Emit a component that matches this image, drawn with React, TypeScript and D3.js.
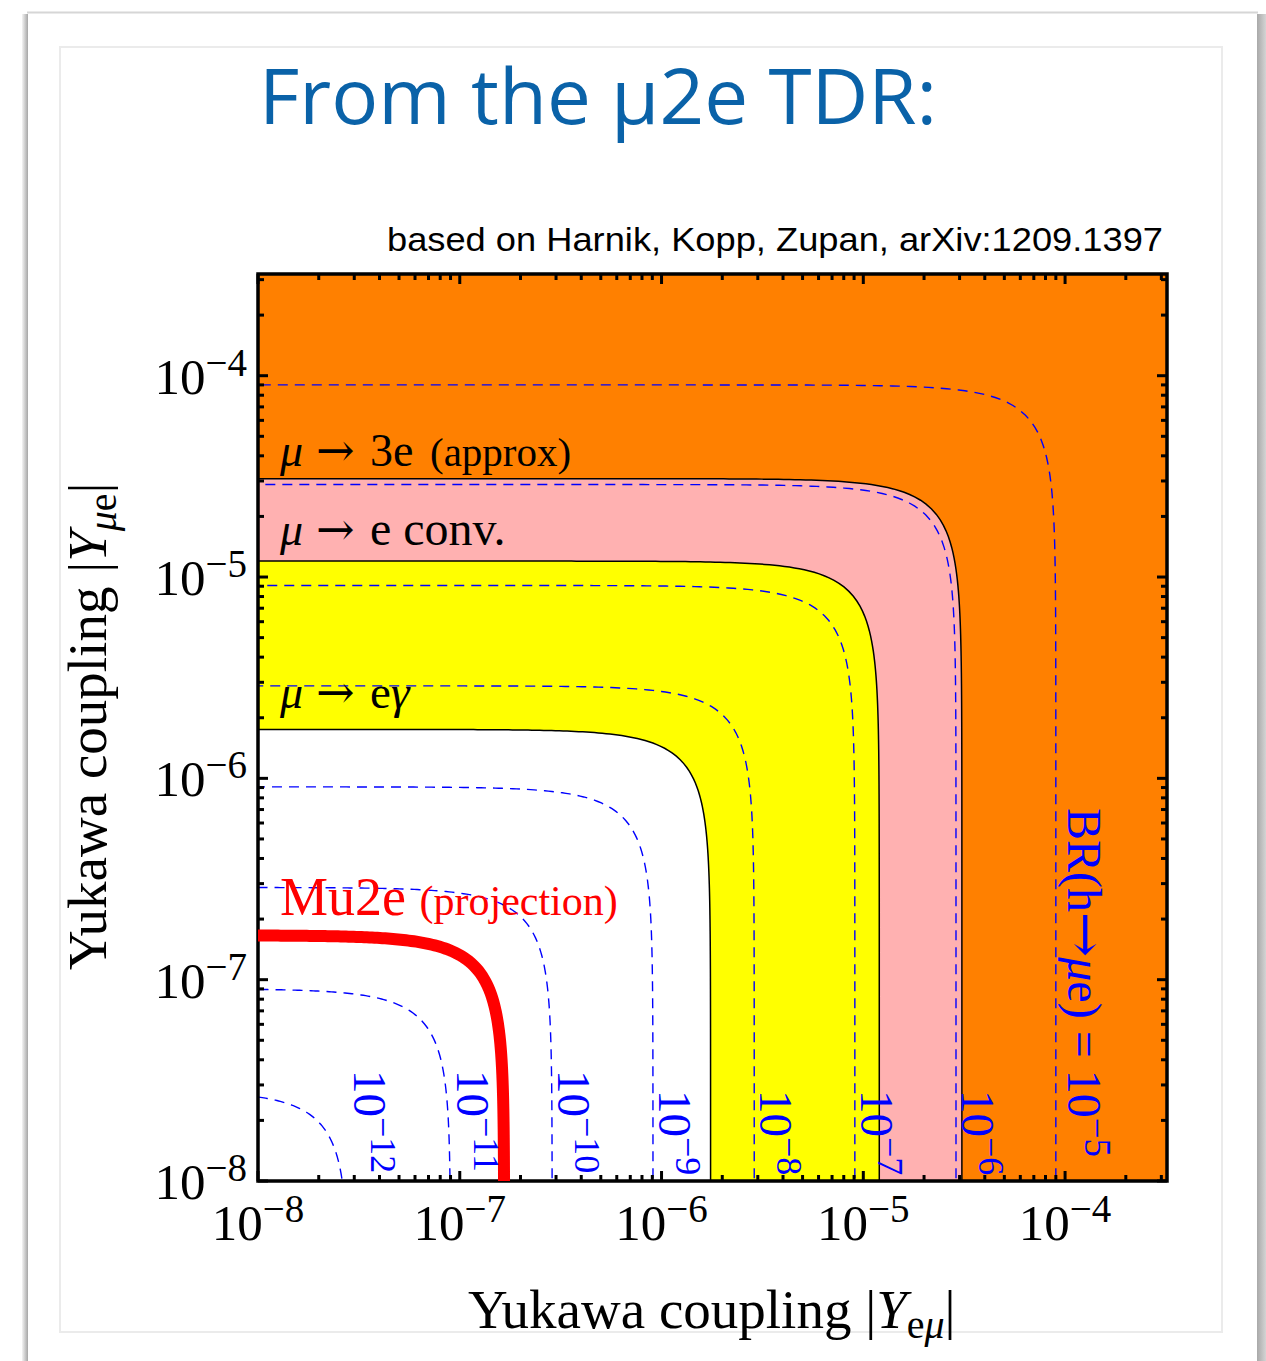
import React from "react";
import * as d3 from "d3";

const W = 1266;
const H = 1361;

// Axis ranges for the two Yukawa couplings (log scale)
const xDomain: [number, number] = [1e-8, 3.2e-4];
const yDomain: [number, number] = [1e-8, 3.2e-4];
const decadeExponents = [-8, -7, -6, -5, -4];
const decadeLabels = ["−8", "−7", "−6", "−5", "−4"];
const minorMultipliers = [2, 3, 4, 5, 6, 7, 8, 9];

// BR(h→μe) contours: radius in (|Yeμ|, |Yμe|) space for each level
const brExponents = ["−12", "−11", "−10", "−9", "−8", "−7", "−6", "−5"];
const brRadii = [2.8e-8, 9.0e-8, 2.87e-7, 9.07e-7, 2.88e-6, 9.08e-6, 2.88e-5, 9.0e-5];

// Exclusion boundaries (outermost first) and the fill inside each
const boundaryRadii = [3.08e-5, 1.2e-5, 1.75e-6];
const boundaryFills = ["#ffb1b1", "#ffff00", "#ffffff"];
const excludedFill = "#ff8000";

// Mu2e projected reach
const mu2eRadius = 1.66e-7;

const plot = { left: 258, right: 1167, top: 274, bottom: 1181 };
const serif = "'Liberation Serif', 'DejaVu Serif', serif";
const arrowFont = "'DejaVu Serif', 'DejaVu Sans', serif";

const xs = d3.scaleLog().domain(xDomain).range([plot.left, plot.right]);
const ys = d3.scaleLog().domain(yDomain).range([plot.bottom, plot.top]);

// Quarter circle |Yeμ|² + |Yμe|² = r², sampled evenly in log space
function quarterArc(r: number, lo = 1e-9, n = 160): [number, number][] {
  const pts: [number, number][] = [];
  const mid = r / Math.SQRT2;
  for (let i = 0; i <= n; i++) {
    const y = lo * Math.pow(mid / lo, i / n);
    pts.push([Math.sqrt(r * r - y * y), y]);
  }
  for (let i = n; i >= 0; i--) {
    const x = lo * Math.pow(mid / lo, i / n);
    pts.push([x, Math.sqrt(r * r - x * x)]);
  }
  return pts;
}

const line = d3
  .line<[number, number]>()
  .x((d) => xs(d[0]))
  .y((d) => ys(d[1]));

function diskPath(r: number): string {
  const pts = quarterArc(r);
  pts.push([1e-9, 1e-9]);
  return (line(pts) as string) + "Z";
}

function tickValues(domain: [number, number]) {
  const major = decadeExponents.map((e) => Math.pow(10, e));
  const minor: number[] = [];
  decadeExponents.forEach((e) =>
    minorMultipliers.forEach((m) => {
      const v = m * Math.pow(10, e);
      if (v <= domain[1]) minor.push(v);
    })
  );
  return { major, minor };
}

export default function App() {
  const xt = tickValues(xDomain);
  const yt = tickValues(yDomain);
  const majorLen = 10;
  const minorLen = 6;

  const tickLines: JSX.Element[] = [];
  const addX = (v: number, len: number, key: string) => {
    const x = xs(v);
    tickLines.push(<line key={"b" + key} x1={x} x2={x} y1={plot.bottom} y2={plot.bottom - len} />);
    tickLines.push(<line key={"t" + key} x1={x} x2={x} y1={plot.top} y2={plot.top + len} />);
  };
  const addY = (v: number, len: number, key: string) => {
    const y = ys(v);
    tickLines.push(<line key={"l" + key} x1={plot.left} x2={plot.left + len} y1={y} y2={y} />);
    tickLines.push(<line key={"r" + key} x1={plot.right} x2={plot.right - len} y1={y} y2={y} />);
  };
  xt.major.forEach((v, i) => addX(v, majorLen, "M" + i));
  xt.minor.forEach((v, i) => addX(v, minorLen, "m" + i));
  yt.major.forEach((v, i) => addY(v, majorLen, "M" + i));
  yt.minor.forEach((v, i) => addY(v, minorLen, "m" + i));

  const lx = 280; // left edge of the region labels
  const arrowX = 316;
  const afterArrowX = 370;

  return (
    <svg
      width={W}
      height={H}
      viewBox={`0 0 ${W} ${H}`}
      style={{ position: "absolute", left: 0, top: 0, background: "#ffffff" }}
    >
      <defs>
        <clipPath id="plotClip">
          <rect x={plot.left} y={plot.top} width={plot.right - plot.left} height={plot.bottom - plot.top} />
        </clipPath>
        <linearGradient id="rightShade" x1="0" x2="1" y1="0" y2="0">
          <stop offset="0" stopColor="#a9a9a9" />
          <stop offset="1" stopColor="#d4d4d4" />
        </linearGradient>
        <linearGradient id="leftShade" x1="0" x2="1" y1="0" y2="0">
          <stop offset="0" stopColor="#f4f4f4" />
          <stop offset="1" stopColor="#a6a6a6" />
        </linearGradient>
      </defs>

      {/* slide window frame */}
      <rect x={0} y={0} width={W} height={H} fill="#ffffff" />
      <rect x={22} y={14} width={6} height={H} fill="url(#leftShade)" />
      <rect x={1257} y={14} width={9} height={H} fill="url(#rightShade)" />
      <line x1={27} x2={1258} y1={12.5} y2={12.5} stroke="#d6d6d6" strokeWidth={2} />
      <rect x={60} y={47} width={1162} height={1285} fill="#ffffff" stroke="#ebebeb" strokeWidth={2} />

      {/* title and attribution */}
      <text
        x={259}
        y={124}
        fontFamily="'Open Sans', 'Noto Sans', sans-serif"
        fontSize={76}
        fill="#0a62a8"
        textLength={678}
        lengthAdjust="spacingAndGlyphs"
      >
        From the μ2e TDR:
      </text>
      <text
        x={387}
        y={251}
        fontFamily="'Liberation Sans', Arial, sans-serif"
        fontSize={33}
        fill="#000000"
        textLength={776}
        lengthAdjust="spacingAndGlyphs"
      >
        based on Harnik, Kopp, Zupan, arXiv:1209.1397
      </text>

      {/* excluded regions */}
      <g clipPath="url(#plotClip)">
        <rect
          x={plot.left}
          y={plot.top}
          width={plot.right - plot.left}
          height={plot.bottom - plot.top}
          fill={excludedFill}
        />
        {boundaryRadii.map((r, i) => (
          <path key={"f" + i} d={diskPath(r)} fill={boundaryFills[i]} />
        ))}
        {brRadii.map((r, i) => (
          <path
            key={"c" + i}
            d={line(quarterArc(r)) as string}
            fill="none"
            stroke="#0000ff"
            strokeWidth={1.4}
            strokeDasharray="10 7"
          />
        ))}
        {boundaryRadii.map((r, i) => (
          <path key={"b" + i} d={line(quarterArc(r)) as string} fill="none" stroke="#000000" strokeWidth={1.5} />
        ))}
      </g>

      {/* frame and ticks */}
      <g stroke="#000000" strokeWidth={3}>{tickLines}</g>
      <rect
        x={plot.left}
        y={plot.top}
        width={plot.right - plot.left}
        height={plot.bottom - plot.top}
        fill="none"
        stroke="#000000"
        strokeWidth={3.5}
      />

      {/* Mu2e projection */}
      <g clipPath="url(#plotClip)">
        <path d={line(quarterArc(mu2eRadius)) as string} fill="none" stroke="#ff0000" strokeWidth={12} />
      </g>

      {/* region labels */}
      <g fontFamily={serif} fill="#000000">
        <text y={466}>
          <tspan x={lx} fontSize={46} fontStyle="italic">μ</tspan>
          <tspan x={arrowX} fontFamily={arrowFont} fontSize={46}>→</tspan>
          <tspan x={afterArrowX} fontSize={46}>3e</tspan>
          <tspan x={430} fontSize={41}>(approx)</tspan>
        </text>
        <text y={545}>
          <tspan x={lx} fontSize={46} fontStyle="italic">μ</tspan>
          <tspan x={arrowX} fontFamily={arrowFont} fontSize={46}>→</tspan>
          <tspan x={afterArrowX} fontSize={48}>e conv.</tspan>
        </text>
        <text y={708}>
          <tspan x={lx} fontSize={46} fontStyle="italic">μ</tspan>
          <tspan x={arrowX} fontFamily={arrowFont} fontSize={46}>→</tspan>
          <tspan x={afterArrowX} fontSize={47}>
            e<tspan fontStyle="italic">γ</tspan>
          </tspan>
        </text>
      </g>
      <text x={280} y={915} fontFamily={serif} fill="#ff0000" fontSize={54}>
        Mu2e <tspan fontSize={42}>(projection)</tspan>
      </text>

      {/* contour labels */}
      <g fontFamily={serif} fill="#0000ff">
        {brRadii.slice(0, 7).map((r, i) => {
          const x = xs(r) + 6;
          const y = brExponents[i].length > 2 ? 1070 : 1090;
          return (
            <text key={"cl" + i} transform={`translate(${x},${y}) rotate(90)`} fontSize={47}>
              10<tspan dy={-17} fontSize={36}>{brExponents[i]}</tspan>
            </text>
          );
        })}
        <text transform={`translate(${xs(brRadii[7]) + 12},808) rotate(90)`} fontSize={48}>
          BR(h
          <tspan fontFamily={arrowFont} fontSize={54}>
            →
          </tspan>
          <tspan fontStyle="italic">μ</tspan>e) = 10
          <tspan dy={-17} fontSize={37}>
            {brExponents[7]}
          </tspan>
        </text>
      </g>

      {/* tick labels */}
      <g fontFamily={serif} fill="#000000">
        {xt.major.map((v, i) => (
          <text key={"xl" + i} x={xs(v)} y={1240} textAnchor="middle" fontSize={51}>
            10<tspan dy={-18} fontSize={39}>{decadeLabels[i]}</tspan>
          </text>
        ))}
        {yt.major.map((v, i) => (
          <text key={"yl" + i} x={247} y={ys(v) + 18} textAnchor="end" fontSize={51}>
            10<tspan dy={-18} fontSize={39}>{decadeLabels[i]}</tspan>
          </text>
        ))}
      </g>

      {/* axis titles */}
      <text x={468} y={1328} fontFamily={serif} fontSize={55} fill="#000000">
        Yukawa coupling |<tspan fontStyle="italic">Y</tspan>
        <tspan dy={10} fontSize={40}>
          e<tspan fontStyle="italic">μ</tspan>
        </tspan>
        <tspan dy={-10}>|</tspan>
      </text>
      <text transform="translate(106,970) rotate(-90)" fontFamily={serif} fontSize={55} fill="#000000">
        Yukawa coupling |<tspan fontStyle="italic">Y</tspan>
        <tspan dy={10} fontSize={40}>
          <tspan fontStyle="italic">μ</tspan>e
        </tspan>
        <tspan dy={-10}>|</tspan>
      </text>
    </svg>
  );
}
